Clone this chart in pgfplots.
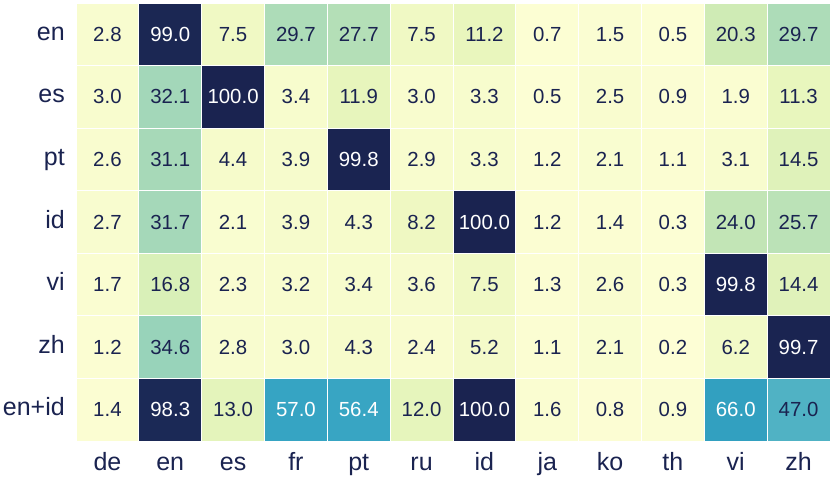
\documentclass[border=0pt]{standalone}
\usepackage{fontspec}
\setmainfont{Liberation Sans}
\usepackage{pgfplots}
\pgfplotsset{compat=1.18}
\definecolor{ink}{RGB}{26,35,80}
\pgfplotsset{colormap={hm}{
  rgb255(0)=(253,254,213) rgb255(10)=(236,247,190) rgb255(20)=(208,236,181)
  rgb255(30)=(172,219,184) rgb255(35)=(150,210,186) rgb255(47)=(80,178,196)
  rgb255(57)=(54,164,195) rgb255(66)=(50,160,192) rgb255(100)=(26,35,80)}}
\begin{document}
\begin{tikzpicture}
\useasboundingbox (0,0) rectangle (830pt,479pt);
\begin{axis}[
  at={(76pt,38pt)}, anchor=south west,
  scale only axis, width=754pt, height=438pt,
  xmin=-0.5, xmax=11.5, ymin=-0.5, ymax=6.5,
  y dir=reverse,
  colormap name=hm,
  point meta min=0, point meta max=100,
  xtick={0,...,11}, ytick={0,...,6},
  xticklabels={de,en,es,fr,pt,ru,id,ja,ko,th,vi,zh},
  yticklabels={en,es,pt,id,vi,zh,en+id},
  tick label style={font=\fontsize{25}{28}\selectfont, text=ink},
  xticklabel style={anchor=north, inner sep=0pt, text height=19pt, text depth=0pt, yshift=-10pt},
  yticklabel style={anchor=base east, inner sep=0pt, xshift=-11pt, yshift=-6pt},
  major tick length=0pt,
  axis line style={draw=none},
  tick style={draw=none},
]
\addplot[matrix plot*, mesh/cols=12, point meta=explicit,
  draw=white, line width=0.8pt,
  visualization depends on={value \thisrow{c} \as \cval},
  nodes near coords={\ifdim\cval pt>50pt\color{white}\else\color{ink}\fi\cval},
  nodes near coords align=center,
  every node near coord/.append style={font=\fontsize{20.4}{24}\selectfont, anchor=center},
] table[meta=c] {
x y c
0 0 2.8
1 0 99.0
2 0 7.5
3 0 29.7
4 0 27.7
5 0 7.5
6 0 11.2
7 0 0.7
8 0 1.5
9 0 0.5
10 0 20.3
11 0 29.7
0 1 3.0
1 1 32.1
2 1 100.0
3 1 3.4
4 1 11.9
5 1 3.0
6 1 3.3
7 1 0.5
8 1 2.5
9 1 0.9
10 1 1.9
11 1 11.3
0 2 2.6
1 2 31.1
2 2 4.4
3 2 3.9
4 2 99.8
5 2 2.9
6 2 3.3
7 2 1.2
8 2 2.1
9 2 1.1
10 2 3.1
11 2 14.5
0 3 2.7
1 3 31.7
2 3 2.1
3 3 3.9
4 3 4.3
5 3 8.2
6 3 100.0
7 3 1.2
8 3 1.4
9 3 0.3
10 3 24.0
11 3 25.7
0 4 1.7
1 4 16.8
2 4 2.3
3 4 3.2
4 4 3.4
5 4 3.6
6 4 7.5
7 4 1.3
8 4 2.6
9 4 0.3
10 4 99.8
11 4 14.4
0 5 1.2
1 5 34.6
2 5 2.8
3 5 3.0
4 5 4.3
5 5 2.4
6 5 5.2
7 5 1.1
8 5 2.1
9 5 0.2
10 5 6.2
11 5 99.7
0 6 1.4
1 6 98.3
2 6 13.0
3 6 57.0
4 6 56.4
5 6 12.0
6 6 100.0
7 6 1.6
8 6 0.8
9 6 0.9
10 6 66.0
11 6 47.0
};
\end{axis}
\end{tikzpicture}
\end{document}
